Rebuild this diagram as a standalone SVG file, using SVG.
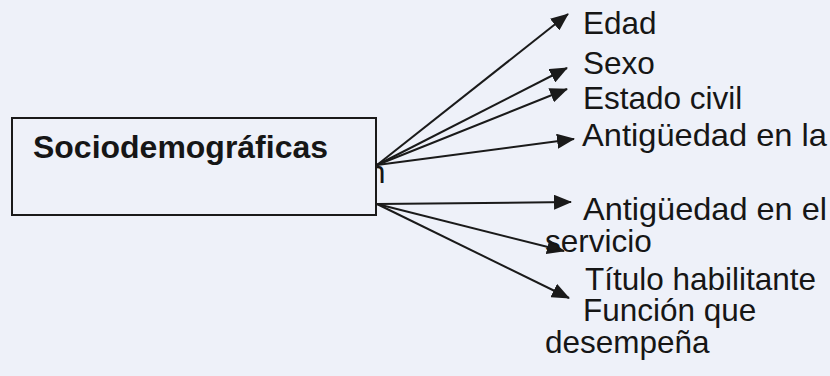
<svg xmlns="http://www.w3.org/2000/svg" width="830" height="376" viewBox="0 0 830 376">
  <style>
    .lbl { font-family: "Liberation Sans", Arial, sans-serif; font-size: 31.5px; fill: #161616; }
    .title { font-family: "Liberation Sans", Arial, sans-serif; font-size: 31px; font-weight: bold; fill: #161616; }
    .conn { stroke: #1a1a1a; stroke-width: 2; fill: none; }
  </style>
  <defs>
    <marker id="ah" markerUnits="userSpaceOnUse" markerWidth="19" markerHeight="15" refX="17" refY="7.5" orient="auto">
      <path d="M0,0 L18,7.5 L0,15 Z" fill="#1a1a1a"/>
    </marker>
  </defs>
  <rect x="0" y="0" width="830" height="376" fill="#eef1f9"/>

  <text class="lbl" x="368" y="183">n</text>

  <g id="node-sociodemograficas">
    <rect x="12" y="118" width="364" height="97" fill="#eef1f9" stroke="#1a1a1a" stroke-width="2"/>
    <text class="title" x="33" y="158" textLength="295" lengthAdjust="spacingAndGlyphs">Sociodemográficas</text>
  </g>

  <g id="connectors">
    <line class="conn" x1="377" y1="165" x2="568" y2="14" marker-end="url(#ah)"/>
    <line class="conn" x1="377" y1="165" x2="567" y2="68" marker-end="url(#ah)"/>
    <line class="conn" x1="377" y1="165" x2="567" y2="89" marker-end="url(#ah)"/>
    <line class="conn" x1="377" y1="165" x2="574" y2="139" marker-end="url(#ah)"/>
    <line class="conn" x1="377" y1="204" x2="571" y2="202" marker-end="url(#ah)"/>
    <line class="conn" x1="377" y1="204" x2="564" y2="251" marker-end="url(#ah)"/>
    <line class="conn" x1="377" y1="204" x2="569" y2="298" marker-end="url(#ah)"/>
  </g>

  <g id="node-edad"><text class="lbl" x="583" y="34">Edad</text></g>
  <g id="node-sexo"><text class="lbl" x="583" y="74">Sexo</text></g>
  <g id="node-estado-civil"><text class="lbl" x="583" y="109">Estado civil</text></g>
  <g id="node-antiguedad-la"><text class="lbl" x="582" y="146" textLength="245" lengthAdjust="spacingAndGlyphs">Antigüedad en la</text></g>
  <g id="node-antiguedad-servicio">
    <text class="lbl" x="583" y="220" textLength="244" lengthAdjust="spacingAndGlyphs">Antigüedad en el</text>
    <text class="lbl" x="545" y="252">servicio</text>
  </g>
  <g id="node-titulo"><text class="lbl" x="585" y="290">Título habilitante</text></g>
  <g id="node-funcion">
    <text class="lbl" x="583" y="321">Función que</text>
    <text class="lbl" x="545" y="353">desempeña</text>
  </g>
</svg>
